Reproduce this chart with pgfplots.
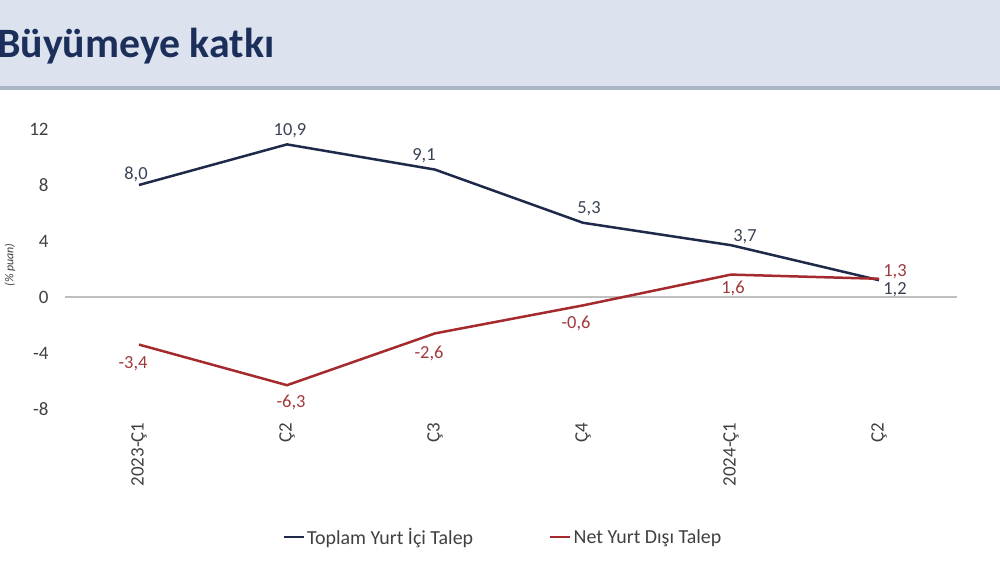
\documentclass[border=0pt]{standalone}
\usepackage{pgfplots}
\usepackage{pgfplotstable}
\pgfplotsset{compat=1.18}
\usepackage{fontspec}
\setmainfont{Carlito}
\definecolor{navy}{HTML}{1F2A4A}
\definecolor{dred}{HTML}{A52A2E}
\definecolor{navylbl}{HTML}{3A4356}
\definecolor{redlbl}{HTML}{A0393C}
\definecolor{titlebg}{HTML}{DCE3EE}
\definecolor{titleline}{HTML}{AAB6C6}
\definecolor{titletext}{HTML}{1B2F5A}
\definecolor{tickgray}{HTML}{404040}
\definecolor{zerogray}{HTML}{BFBFBF}
\pgfplotstableread{
x y lab dx dy
0 8.0 8,0 -3 11
1 10.9 10,9 3 14
2 9.1 9,1 -11 14
3 5.3 5,3 6 14
4 3.7 3,7 14 8
5 1.2 1,2 16 -10
}\domestic
\pgfplotstableread{
x y lab dx dy
0 -3.4 -3,4 -6 -19
1 -6.3 -6,3 4 -17
2 -2.6 -2,6 -6 -20
3 -0.6 -0,6 -7 -18
4 1.6 1,6 2 -14
5 1.3 1,3 16 7
}\foreign
\begin{document}
\begin{tikzpicture}[x=1bp,y=1bp]
\useasboundingbox (0,0) rectangle (1000,562);
\fill[white] (0,0) rectangle (1000,562);
\fill[titlebg] (0,474) rectangle (1000,562);
\fill[titleline] (0,472) rectangle (1000,476);
\node[anchor=base west, text=titletext, font=\fontsize{42}{46}\selectfont\bfseries, inner sep=0] at (-3,504) {Büyümeye katkı};
\node[rotate=90, text=tickgray, font=\fontsize{12}{14}\selectfont\itshape] at (10,297) {(\% puan)};
\begin{axis}[
  at={(65bp,153bp)}, anchor=south west,
  scale only axis, width=892bp, height=280bp,
  xmin=-0.5, xmax=5.527, ymin=-8, ymax=12,
  axis line style={draw=none},
  major tick length=0,
  ytick={-8,-4,0,4,8,12},
  xtick={0,1,2,3,4,5},
  xticklabels={2023-Ç1,Ç2,Ç3,Ç4,2024-Ç1,Ç2},
  xticklabel style={yshift=-10bp, rotate=90, anchor=east, text=tickgray, font=\fontsize{19}{21}\selectfont},
  yticklabel style={xshift=-13bp, text=tickgray, font=\fontsize{19}{21}\selectfont},
  /pgf/number format/assume math mode=true,
  extra y ticks={0},
  extra y tick labels={},
  extra y tick style={grid=major, grid style={zerogray, line width=1.5bp}},
  legend columns=2,
  legend style={draw=none, fill=none, at={(0.491,-0.457)}, anchor=center,
    font=\fontsize{20}{22}\selectfont, text=tickgray,
    /tikz/every even column/.append style={column sep=74bp}},
  legend image code/.code={\draw[#1, line width=2.5bp] (0bp,0bp) -- (20bp,0bp);},
  clip=false,
]
\addplot[navy, line width=2.5bp, mark=none] table[x=x, y=y] {\domestic};
\addlegendentry{Toplam Yurt İçi Talep}
\addplot[dred, line width=2.5bp, mark=none] table[x=x, y=y] {\foreign};
\addlegendentry{Net Yurt Dışı Talep}
\addplot[draw=none, mark=none, forget plot, point meta=explicit symbolic, nodes near coords,
  visualization depends on={\thisrow{dx} \as \ldx},
  visualization depends on={\thisrow{dy} \as \ldy},
  every node near coord/.append style={anchor=center, xshift=\ldx bp, yshift=\ldy bp, text=navylbl, font=\fontsize{18.5}{20}\selectfont, inner sep=0}]
  table[x=x, y=y, meta=lab] {\domestic};
\addplot[draw=none, mark=none, forget plot, point meta=explicit symbolic, nodes near coords,
  visualization depends on={\thisrow{dx} \as \ldx},
  visualization depends on={\thisrow{dy} \as \ldy},
  every node near coord/.append style={anchor=center, xshift=\ldx bp, yshift=\ldy bp, text=redlbl, font=\fontsize{18.5}{20}\selectfont, inner sep=0}]
  table[x=x, y=y, meta=lab] {\foreign};
\end{axis}
\end{tikzpicture}
\end{document}
